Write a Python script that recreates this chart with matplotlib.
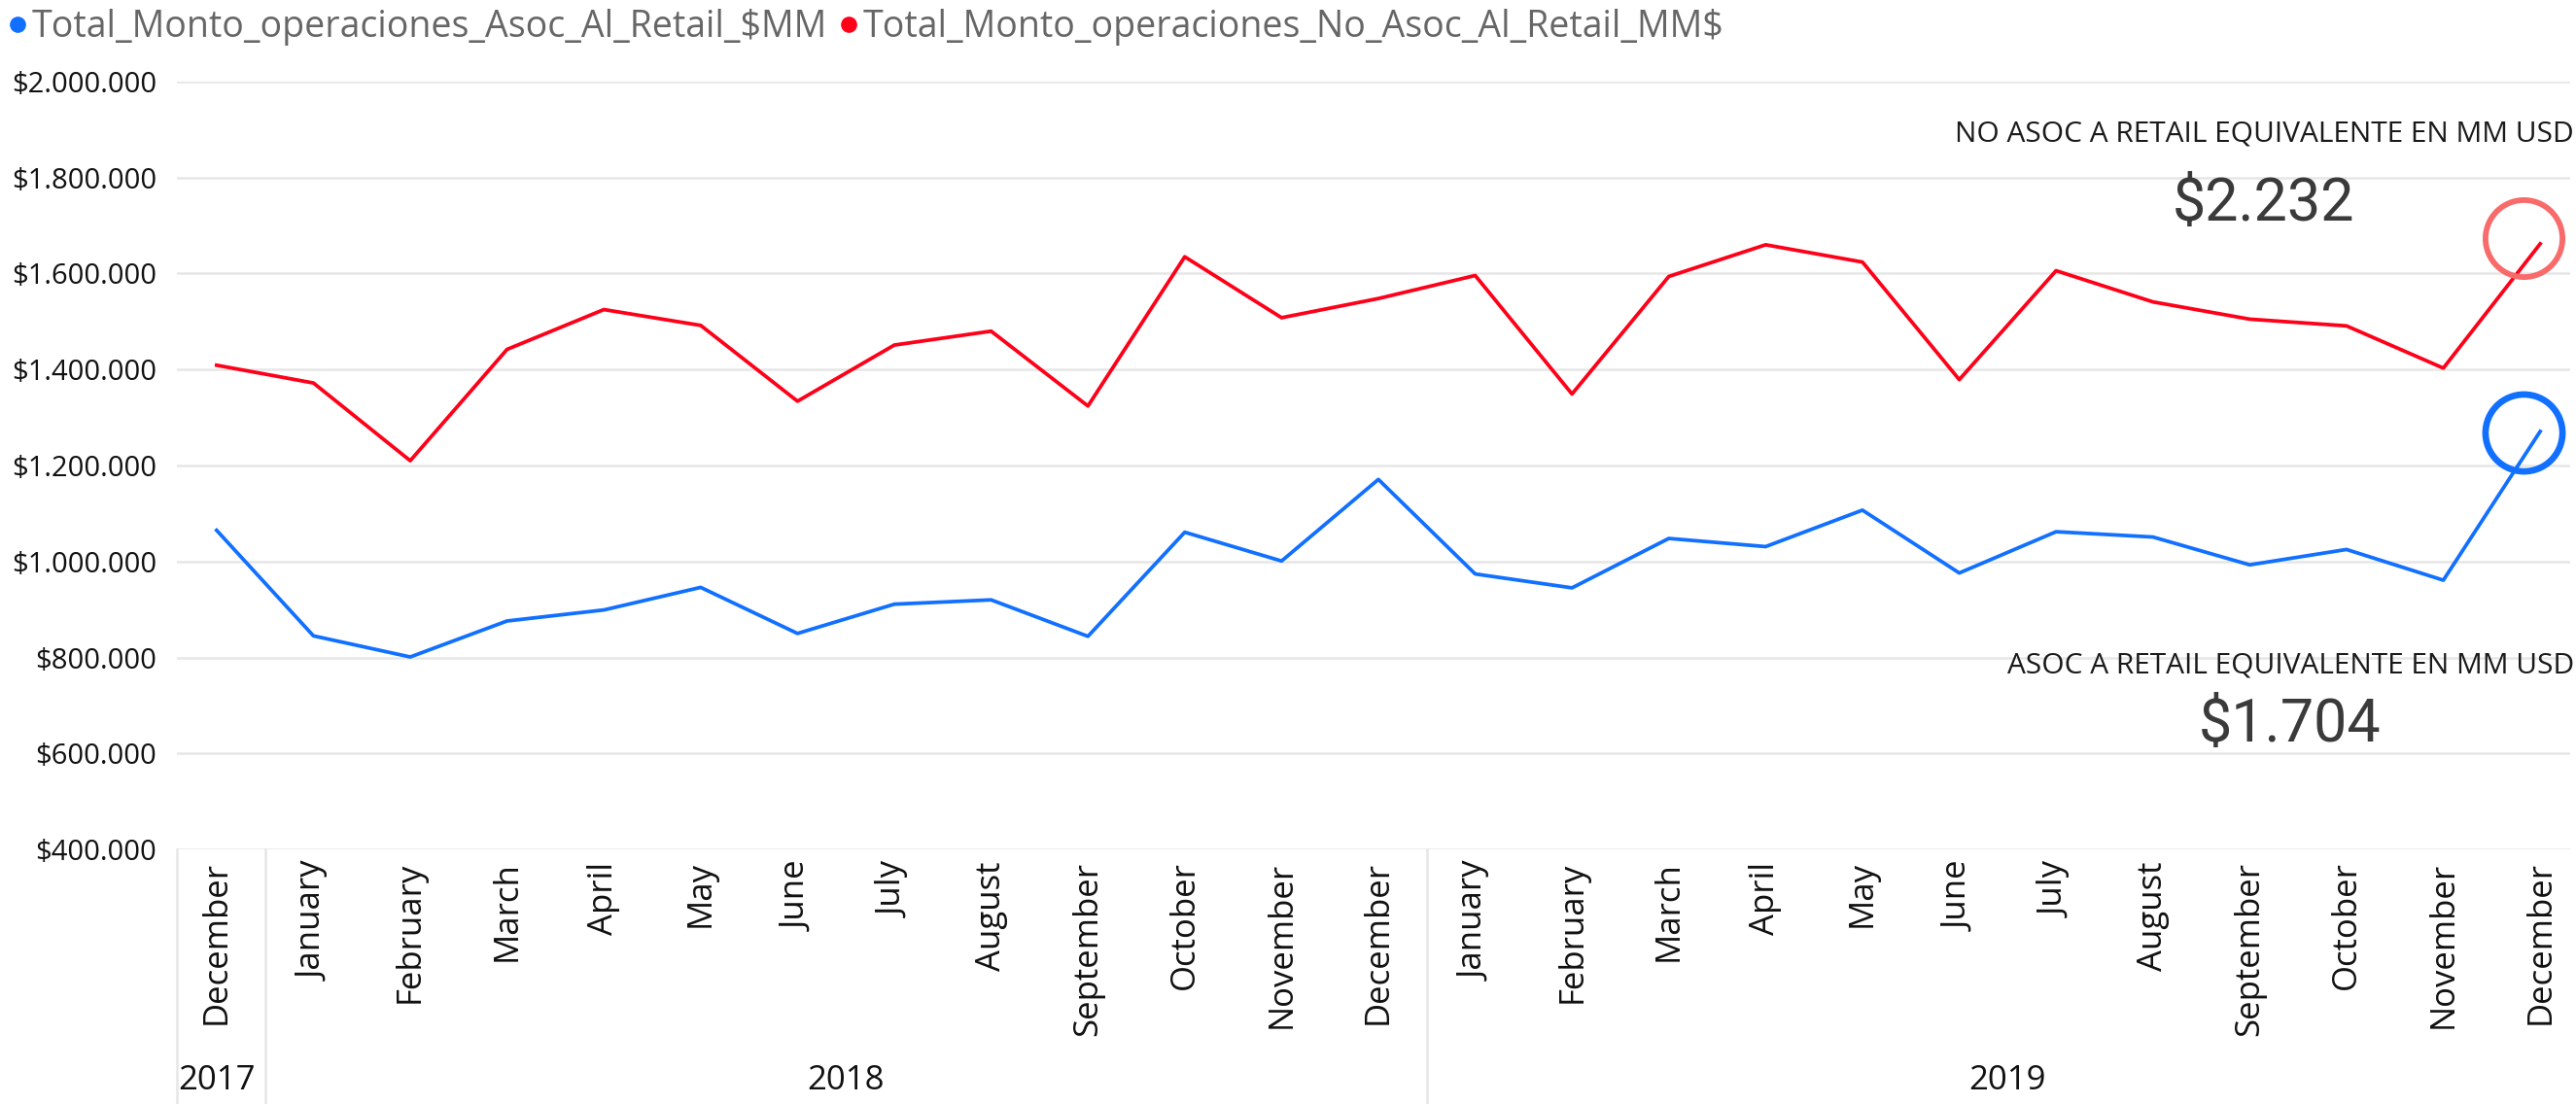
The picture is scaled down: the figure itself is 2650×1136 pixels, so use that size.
import matplotlib

matplotlib.use("Agg")
import matplotlib.pyplot as plt
import matplotlib.transforms as mtransforms
from matplotlib.lines import Line2D
from matplotlib.ticker import FuncFormatter

# --- data ---
months = ["December",
          "January", "February", "March", "April", "May", "June", "July",
          "August", "September", "October", "November", "December",
          "January", "February", "March", "April", "May", "June", "July",
          "August", "September", "October", "November", "December"]
years = ["2017", "2018", "2019"]
year_first_idx = [0, 1, 13]
year_last_idx = [0, 12, 24]

asoc_retail = [1065000, 845000, 801000, 876000, 899000, 946000, 850000,
               911000, 920000, 844000, 1061000, 1001000, 1171000,
               974000, 945000, 1048000, 1031000, 1107000, 976000, 1062000,
               1051000, 993000, 1025000, 961000, 1271000]
no_asoc_retail = [1409000, 1372000, 1210000, 1442000, 1525000, 1492000,
                  1334000, 1451000, 1480000, 1324000, 1635000, 1508000,
                  1548000, 1596000, 1349000, 1594000, 1660000, 1624000,
                  1379000, 1606000, 1541000, 1505000, 1491000, 1403000,
                  1662000]
series_labels = ["Total_Monto_operaciones_Asoc_Al_Retail_$MM",
                 "Total_Monto_operaciones_No_Asoc_Al_Retail_MM$"]

kpi_no_asoc_title = "NO ASOC A RETAIL EQUIVALENTE EN MM USD"
kpi_no_asoc_value = "$2.232"
kpi_asoc_title = "ASOC A RETAIL EQUIVALENTE EN MM USD"
kpi_asoc_value = "$1.704"

BLUE = "#1170FF"
RED = "#FF0019"
RED_RING = "#F96A6A"
GRID = "#E6E6E6"
FONT = "Open Sans"

W, H = 2650, 1136
fig = plt.figure(figsize=(W / 100, H / 100), dpi=100)
ax = fig.add_axes([182 / W, 1 - 874 / H, (2644 - 182) / W, (874 - 84) / H])

x = list(range(len(months)))
ax.plot(x, no_asoc_retail, color=RED, lw=2.7, zorder=3)
ax.plot(x, asoc_retail, color=BLUE, lw=2.7, zorder=3)

# highlight rings around the last point of each series
px = fig.dpi_scale_trans
red_shift = mtransforms.ScaledTranslation(-17 / 100, 6 / 100, px)
blue_shift = mtransforms.ScaledTranslation(-17 / 100, -1.5 / 100, px)
ax.plot([x[-1]], [no_asoc_retail[-1]], marker="o", ms=57, mfc="none",
        mec=RED_RING, mew=4.2, transform=ax.transData + red_shift,
        clip_on=False, zorder=4)
ax.plot([x[-1]], [asoc_retail[-1]], marker="o", ms=57, mfc="none",
        mec=BLUE, mew=4.8, transform=ax.transData + blue_shift,
        clip_on=False, zorder=4)

ax.set_xlim(-0.41, 24.31)
ax.set_ylim(400000, 2000000)
ax.set_yticks(range(400000, 2000001, 200000))
ax.yaxis.set_major_formatter(
    FuncFormatter(lambda v, _: f"${v:,.0f}".replace(",", ".")))
ax.yaxis.grid(True, color=GRID, lw=1.8)
ax.set_axisbelow(True)
for s in ax.spines.values():
    s.set_visible(False)

ax.set_xticks(x)
ax.set_xticklabels(months, rotation=90, fontsize=25, family=FONT,
                   color="#111111")
ax.tick_params(axis="x", length=0, pad=9)
ax.tick_params(axis="y", length=0, pad=15, labelsize=21, labelcolor="#111111")
for lbl in ax.get_yticklabels():
    lbl.set_family(FONT)

# year groups under the month labels
trans = mtransforms.blended_transform_factory(ax.transData, ax.transAxes)
seps = [-0.41] + [f - 0.5 for f in year_first_idx[1:]]
for sx in seps:
    ax.plot([sx, sx], [0, -0.335], transform=trans, color=GRID, lw=1.8,
            clip_on=False)
for yr, a, b in zip(years, year_first_idx, year_last_idx):
    ax.text((a + b) / 2, -0.301, yr, transform=trans, ha="center",
            va="center", fontsize=25, family=FONT, color="#111111")

# legend
handles = [Line2D([], [], ls="none", marker="o", ms=11, color=BLUE),
           Line2D([], [], ls="none", marker="o", ms=11, color=RED)]
fig.legend(handles, series_labels, loc="center left",
           bbox_to_anchor=(0.003, 1 - 28 / H), frameon=False, ncol=2,
           handlelength=0.55, handletextpad=0.12, columnspacing=0.3,
           borderpad=0, borderaxespad=0, labelcolor="#666666",
           prop={"family": FONT, "size": 27})

# KPI annotations
fig.text(2648 / W, 1 - 138 / H, kpi_no_asoc_title, ha="right", va="center",
         fontsize=21.5, family=FONT, color="#1A1A1A")
fig.text(2328 / W, 1 - 210 / H, kpi_no_asoc_value, ha="center", va="center",
         fontsize=44, family="Roboto", color="#3A3A3A")
fig.text(2648 / W, 1 - 685 / H, kpi_asoc_title, ha="right", va="center",
         fontsize=21.5, family=FONT, color="#1A1A1A")
fig.text(2356 / W, 1 - 746 / H, kpi_asoc_value, ha="center", va="center",
         fontsize=44, family="Roboto", color="#3A3A3A")

fig.savefig("out.png", dpi=100, facecolor="white")
